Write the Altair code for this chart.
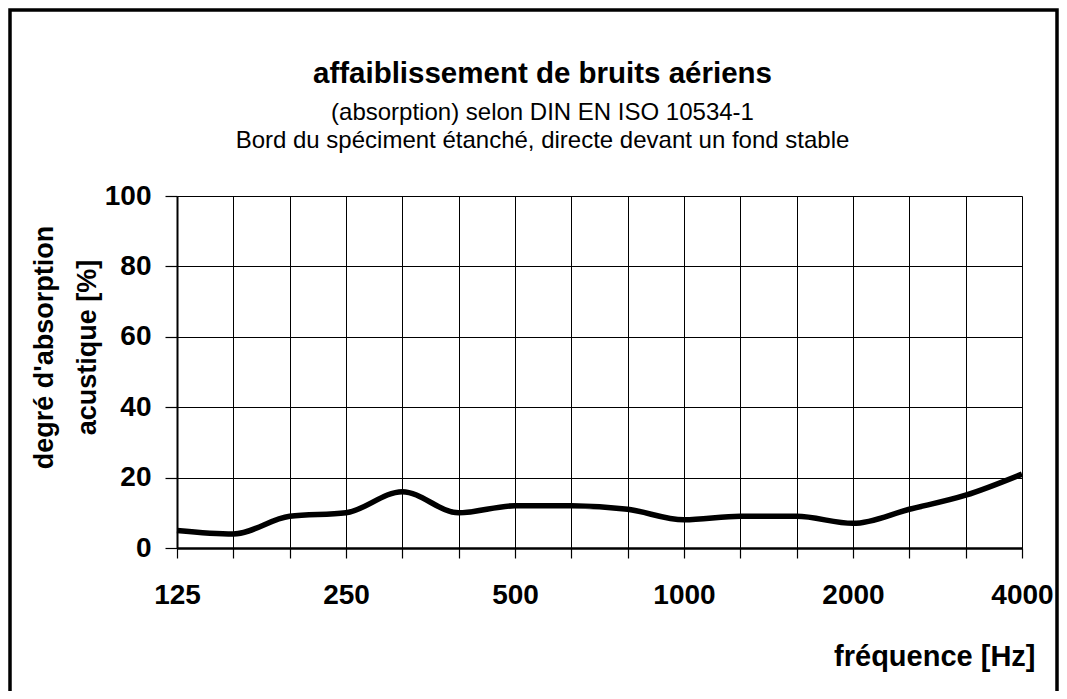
import altair as alt
import pandas as pd

# third-octave band centre frequencies [Hz]
freqs = [125, 160, 200, 250, 315, 400, 500, 630, 800, 1000, 1250, 1600, 2000, 2500, 3150, 4000]
# sound absorption coefficient [%]
absorption = [5, 4, 9, 10, 16, 10, 12, 12, 11, 8, 9, 9, 7, 11, 15, 21]
labelled = ["125", "250", "500", "1000", "2000", "4000"]
y_ticks = [0, 20, 40, 60, 80, 100]

df = pd.DataFrame({"f": freqs, "a": absorption})

FONT = "Liberation Sans"
W, H = 845, 352
PAD_L, PAD_T, PAD_R, PAD_B = 169, 188, 37, 143

label_expr = "indexof([" + ",".join("'%s'" % s for s in labelled) + "], datum.label) >= 0 ? datum.label : ''"

line = alt.Chart(df).mark_line(color="black", strokeWidth=5.5, interpolate="monotone").encode(
    x=alt.X("f:O", sort=freqs,
            scale=alt.Scale(type="point", padding=0),
            axis=alt.Axis(title="fréquence [Hz]", labelAngle=0, labelExpr=label_expr,
                          grid=True, gridColor="black", gridWidth=1, gridOpacity=1,
                          tickColor="black", tickSize=10, tickWidth=1.2,
                          domainColor="black", domainWidth=2.5,
                          labelFont=FONT, labelFontSize=28, labelFontWeight="bold", labelColor="black",
                          labelPadding=23,
                          titleFont=FONT, titleFontSize=29, titleFontWeight="bold", titleColor="black",
                          titleAnchor=None, titleAlign="right", titleBaseline="alphabetic",
                          titleX=W + 13, titleY=117)),
    y=alt.Y("a:Q", scale=alt.Scale(domain=[0, 100], nice=False),
            axis=alt.Axis(title=["degré d'absorption", "acustique [%]"], values=y_ticks,
                          grid=True, gridColor="black", gridWidth=1, gridOpacity=1,
                          tickColor="black", tickSize=12, tickWidth=1.2,
                          domainColor="black", domainWidth=2,
                          labelFont=FONT, labelFontSize=28, labelFontWeight="bold", labelColor="black",
                          labelPadding=14,
                          titleFont=FONT, titleFontSize=27, titleFontWeight="bold", titleColor="black",
                          titleAngle=-90, titleAlign="center", titleBaseline="alphabetic",
                          titleLineHeight=43, titleX=-125, titleY=151)),
)

frame = alt.Chart(alt.Data(values=[{"k": 1}])).mark_rect(
    fill=None, stroke="black", strokeWidth=3.5, clip=False
).encode(
    x=alt.value(-167), x2=alt.value(880), y=alt.value(-186), y2=alt.value(600)
)

chart = alt.layer(line, frame).properties(
    width=W, height=H,
    autosize=alt.AutoSizeParams(type="none"),
    padding={"left": PAD_L, "top": PAD_T, "right": PAD_R, "bottom": PAD_B},
    title=alt.Title(
        text="affaiblissement de bruits aériens",
        subtitle=["(absorption) selon DIN EN ISO 10534-1",
                  "Bord du spéciment étanché, directe devant un fond stable"],
        font=FONT, fontSize=29.5, fontWeight="bold", color="black",
        subtitleFont=FONT, subtitleFontSize=24, subtitleColor="black",
        subtitleLineHeight=28, subtitlePadding=12,
        anchor="middle", dx=-57, offset=-146,
    ),
).configure_view(stroke="black", strokeWidth=2).configure(background="white")

chart.save("out.html", embed_options={"renderer": "svg", "actions": False})
